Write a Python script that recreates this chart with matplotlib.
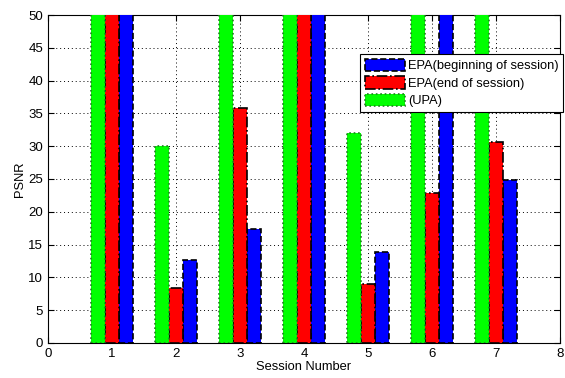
import numpy as np
import matplotlib.pyplot as plt

plt.rcParams['font.family'] = ['Liberation Sans', 'DejaVu Sans']

sessions = [1, 2, 3, 4, 5, 6, 7]
# values above 50 are clipped by the axis in the original
upa = [60, 30.0, 60, 60, 32.0, 60, 60]
epa_end = [60, 8.3, 35.8, 60, 9.0, 22.9, 30.6]
epa_begin = [60, 12.6, 17.3, 60, 13.8, 60, 24.9]

fig = plt.figure(figsize=(5.65, 3.78), dpi=100)
ax = fig.add_axes([0.085, 0.093, 0.906, 0.867])

x = np.array(sessions)
w = 0.223
b1 = ax.bar(x + w, epa_begin, w, color='#0000ff', edgecolor='black',
            linestyle='--', linewidth=1.2, label='EPA(beginning of session)', zorder=3)
b2 = ax.bar(x, epa_end, w, color='#ff0000', edgecolor='black',
            linestyle='-.', linewidth=1.2, label='EPA(end of session)', zorder=3)
b3 = ax.bar(x - w, upa, w, color='#00ff00', edgecolor='#208020',
            linestyle=':', linewidth=1.2, label='(UPA)', zorder=3)

ax.set_xlim(0, 8)
ax.set_ylim(0, 50)
ax.set_xticks(range(0, 9))
ax.set_yticks(range(0, 51, 5))
ax.grid(True, color='black', linestyle=(0, (1, 3)), linewidth=0.7, zorder=0)
ax.tick_params(direction='in', right=True, top=True, labelsize=9.5, length=4)
for s in ax.spines.values():
    s.set_linewidth(0.8)
ax.set_xlabel('Session Number', fontsize=9.3, labelpad=1)
ax.set_ylabel('PSNR', fontsize=9.3, labelpad=2)

leg = ax.legend(loc='upper right', bbox_to_anchor=(1.006, 0.881), fontsize=9.3,
                fancybox=False, edgecolor='black', framealpha=1,
                handlelength=3.1, handleheight=1.1, handletextpad=0.25,
                borderpad=0.35, labelspacing=0.3, borderaxespad=0)
leg.get_frame().set_linewidth(0.8)
leg.set_zorder(5)

fig.savefig('out.png', dpi=100)
